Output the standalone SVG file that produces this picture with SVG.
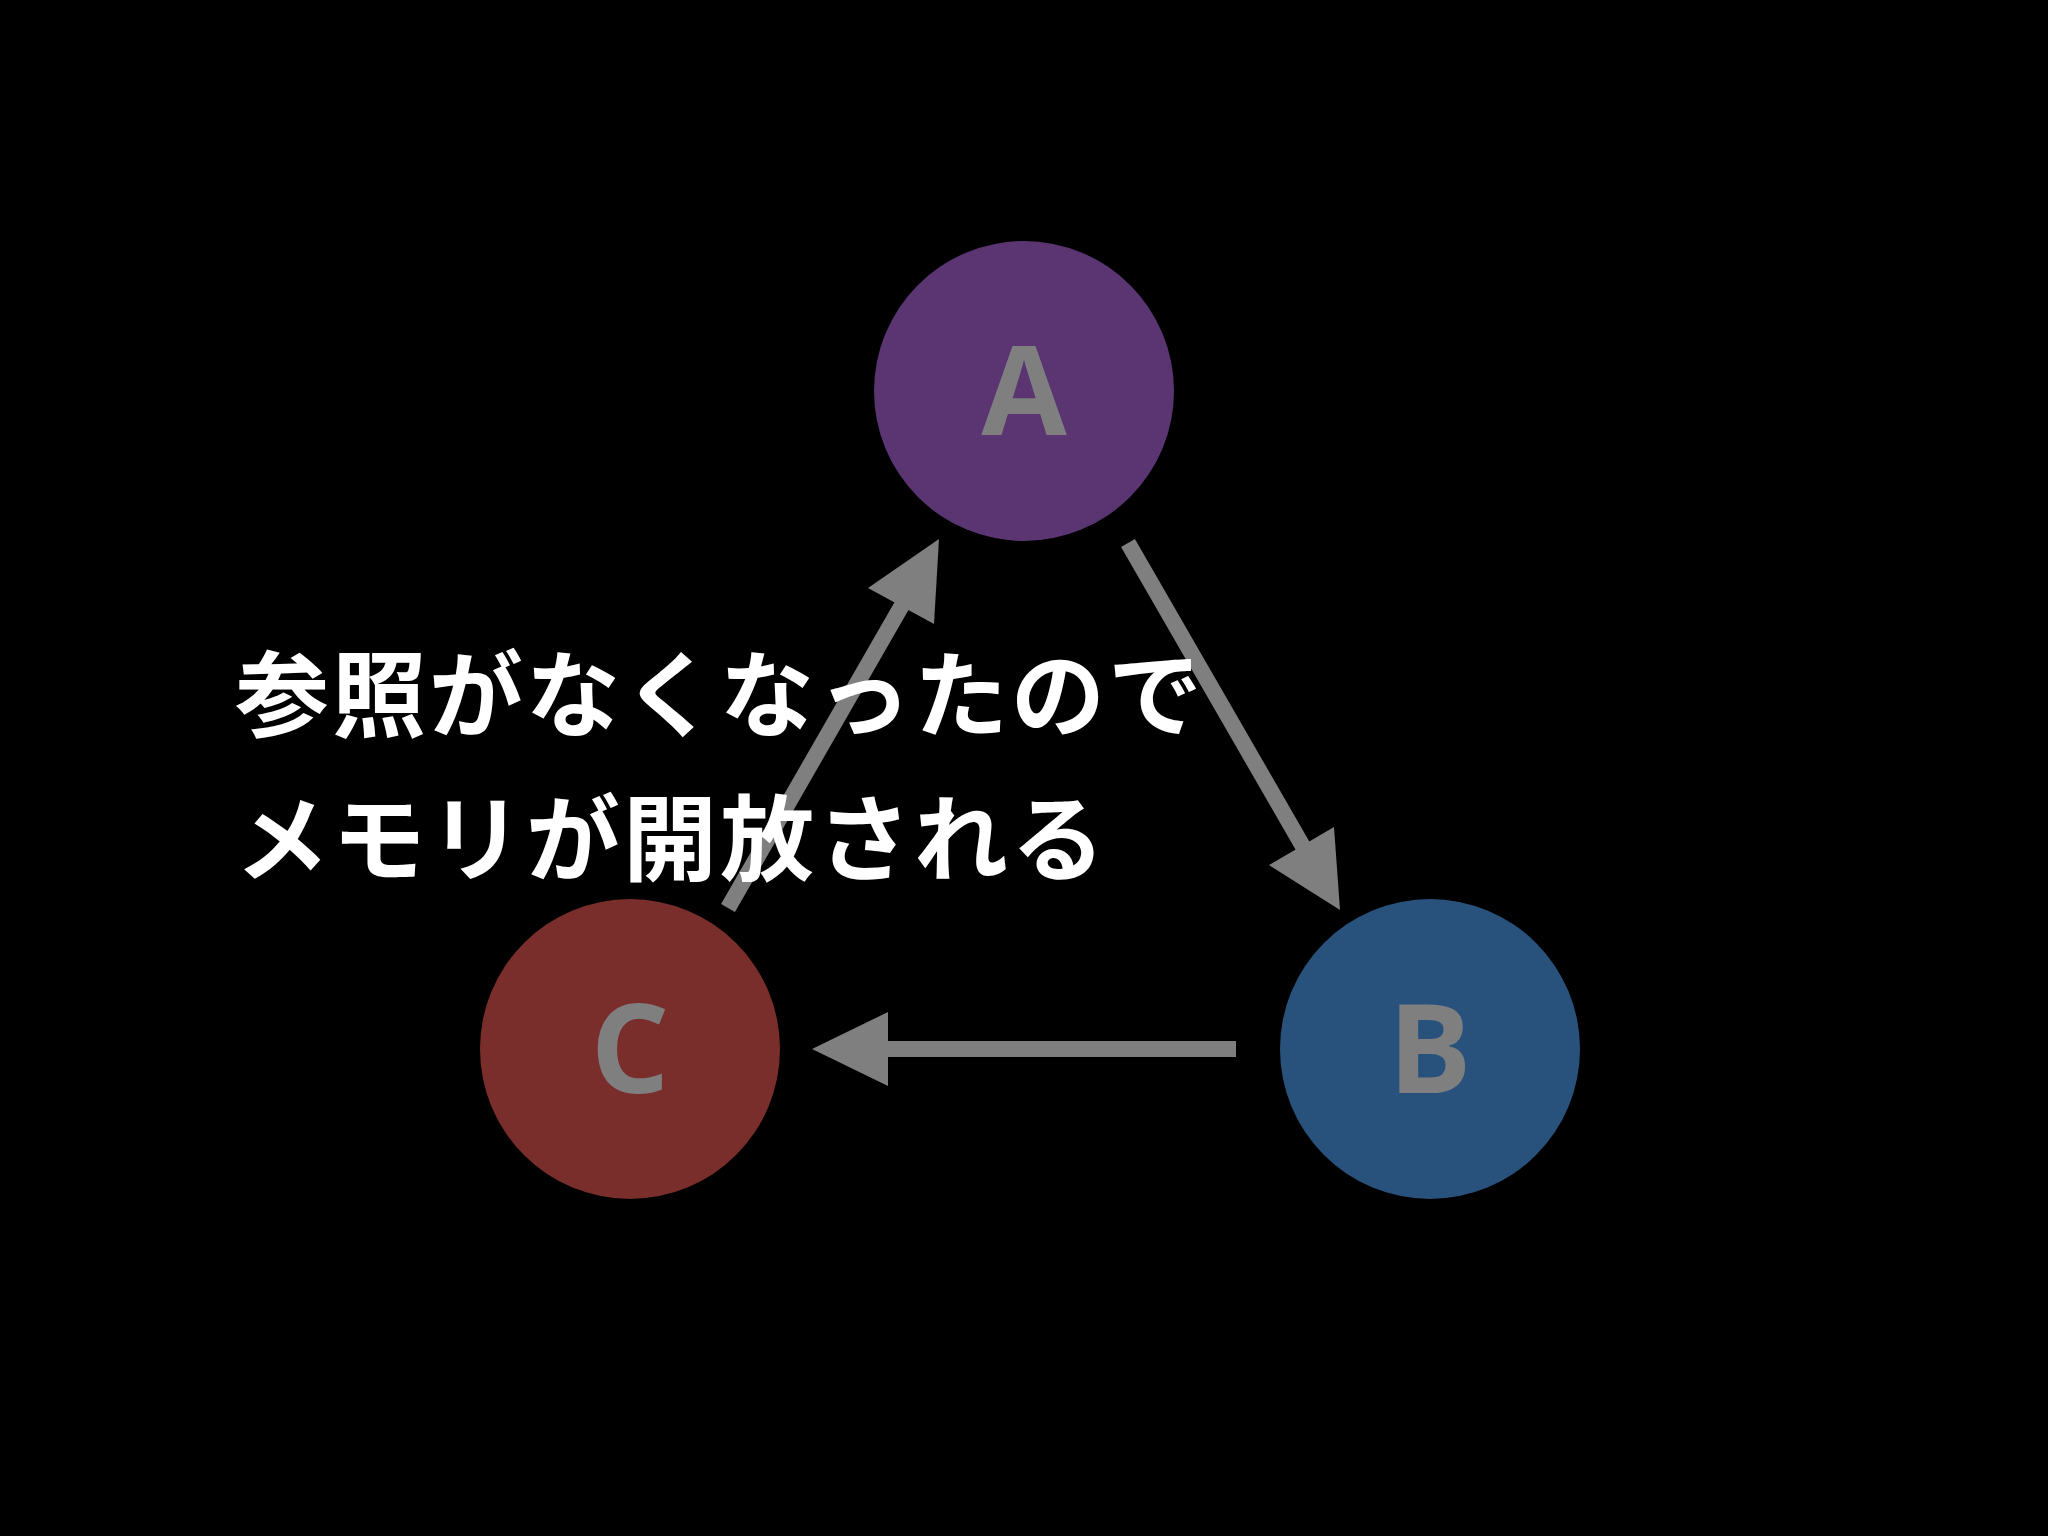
<svg xmlns="http://www.w3.org/2000/svg" width="2048" height="1536" viewBox="0 0 2048 1536">
<style>
.lbl{font-family:"Open Sans","DejaVu Sans",sans-serif;font-weight:bold;font-size:124px;fill:#7f7f80;text-anchor:middle}
.edge{stroke:#7f7f80;stroke-width:16;fill:none}
.head{fill:#7f7f80}
.msg{font-family:"Noto Sans CJK JP",sans-serif;font-weight:bold;font-size:94px;fill:#ffffff;letter-spacing:3px}
</style>
<rect width="2048" height="1536" fill="#000"/>
<g id="A"><circle cx="1024" cy="391" r="150" fill="#5b3472"/><text class="lbl" x="1024" y="435">A</text></g>
<g id="B"><circle cx="1430" cy="1049" r="150" fill="#28527c"/><text class="lbl" x="1430" y="1093">B</text></g>
<g id="C"><circle cx="630" cy="1049" r="150" fill="#7a2e2c"/><text class="lbl" x="630" y="1093">C</text></g>
<g id="connectors">
<line class="edge" x1="1128" y1="543" x2="1305" y2="850"/>
<polygon class="head" points="1340,910 1269,865 1334,827"/>
<line class="edge" x1="1236" y1="1049" x2="870" y2="1049"/>
<polygon class="head" points="812,1049 888,1012 888,1086"/>
<line class="edge" x1="728" y1="908" x2="905" y2="600"/>
<polygon class="head" points="939,539 868,588 934,624"/>
</g>
<g id="message">
<text class="msg" x="235" y="730">参照がなくなったので</text>
<text class="msg" x="235" y="874">メモリが開放される</text>
</g>
</svg>
